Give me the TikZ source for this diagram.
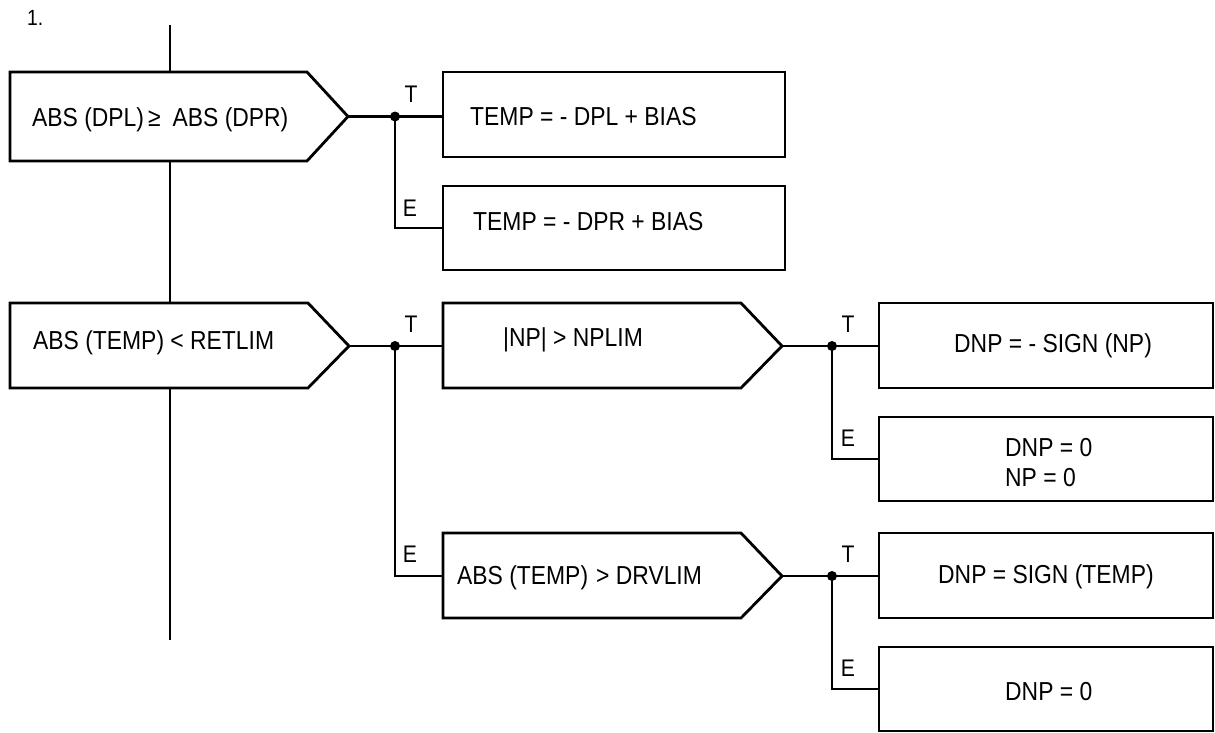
\documentclass[tikz,border=0pt]{standalone}
\usepackage{fontspec}
\setmainfont{Liberation Sans}[FakeStretch=0.88]
\begin{document}
\begin{tikzpicture}[x=1pt,y=-1pt,
  ln/.style={line width=2.8pt, line join=miter},
  txt/.style={anchor=west, inner sep=0pt, font=\fontsize{26}{30}\selectfont},
  lbl/.style={inner sep=0pt, font=\fontsize{24}{26}\selectfont},
  box/.style={draw, ln, fill=white, rectangle, inner sep=0pt},
  jdot/.style={circle, fill=black, inner sep=0pt, minimum size=10pt}]
\useasboundingbox (0,0) rectangle (1215,732);
% main line
\coordinate (top) at (170,25);
\coordinate (bot) at (170,640);
\draw[ln] (top) -- (bot);
% decisions
\draw[ln, fill=white] (10,72) -- (307,72) -- (348,116.5) coordinate (d1) -- (307,161) -- (10,161) -- cycle;
\draw[ln, fill=white] (10,303) -- (308,303) -- (349,346) coordinate (d2) -- (308,388) -- (10,388) -- cycle;
\draw[ln, fill=white] (443,303) -- (741,303) -- (782,346) coordinate (d3) -- (741,388) -- (443,388) -- cycle;
\coordinate (d3w) at (443,346);
\draw[ln, fill=white] (443,533) -- (741,533) -- (782,576) coordinate (d4) -- (741,618) -- (443,618) -- cycle;
\coordinate (d4w) at (443,576);
\node[txt] (t1) at (32,120) {ABS (DPL)\kern4pt≥\hspace{12pt}ABS (DPR)};
\node[txt] (t2) at (33,343) {ABS (TEMP) < RETLIM};
\node[txt] (t3) at (503,340) {|NP| > NPLIM};
\node[txt] (t4) at (457,578) {ABS (TEMP)\hspace{8pt}> DRVLIM};
% boxes
\node[box, minimum width=342pt, minimum height=85pt] (b1) at (614,114.5) {};
\node[txt] (tb1) at (470,117) {TEMP = - DPL + BIAS};
\node[box, minimum width=342pt, minimum height=84pt] (b2) at (614,228) {};
\node[txt] (tb2) at (473,222) {TEMP = - DPR + BIAS};
\node[box, minimum width=334pt, minimum height=85pt] (b3) at (1046,345.5) {};
\node[txt] (tb3) at (954,346) {DNP = - SIGN (NP)};
\node[box, minimum width=334pt, minimum height=84pt] (b4) at (1046,459) {};
\node[txt, align=left] (tb4) at (1005,463) {DNP = 0\\NP = 0};
\node[box, minimum width=334pt, minimum height=85pt] (b5) at (1046,575.5) {};
\node[txt] (tb5) at (938,577) {DNP = SIGN (TEMP)};
\node[box, minimum width=334pt, minimum height=84pt] (b6) at (1046,689) {};
\node[txt] (tb6) at (1005,692) {DNP = 0};
% junctions
\node[jdot] (j1) at (395,116.5) {};
\node[jdot] (j2) at (395,346) {};
\node[jdot] (j3) at (832,346) {};
\node[jdot] (j4) at (832,576) {};
% connectors
\draw[ln] (d1) -- (j1.center) -- (b1.west |- j1);
\draw[ln] (j1.center) |- (b2.west);
\draw[ln] (d2) -- (j2.center) -- (d3w);
\draw[ln] (j2.center) |- (d4w);
\draw[ln] (d3) -- (j3.center) -- (b3.west |- j3);
\draw[ln] (j3.center) |- (b4.west);
\draw[ln] (d4) -- (j4.center) -- (b5.west |- j4);
\draw[ln] (j4.center) |- (b6.west);
% labels
\node[lbl] (l1) at (411,94) {T};
\node[lbl] (l2) at (410,208) {E};
\node[lbl] (l3) at (411,324) {T};
\node[lbl] (l4) at (410,554) {E};
\node[lbl] (l5) at (848,324) {T};
\node[lbl] (l6) at (848,438) {E};
\node[lbl] (l7) at (848,554) {T};
\node[lbl] (l8) at (848,668) {E};
\node[inner sep=0pt, anchor=west, font=\fontsize{22}{24}\selectfont] (n1) at (27,18) {1.};
\end{tikzpicture}
\end{document}
